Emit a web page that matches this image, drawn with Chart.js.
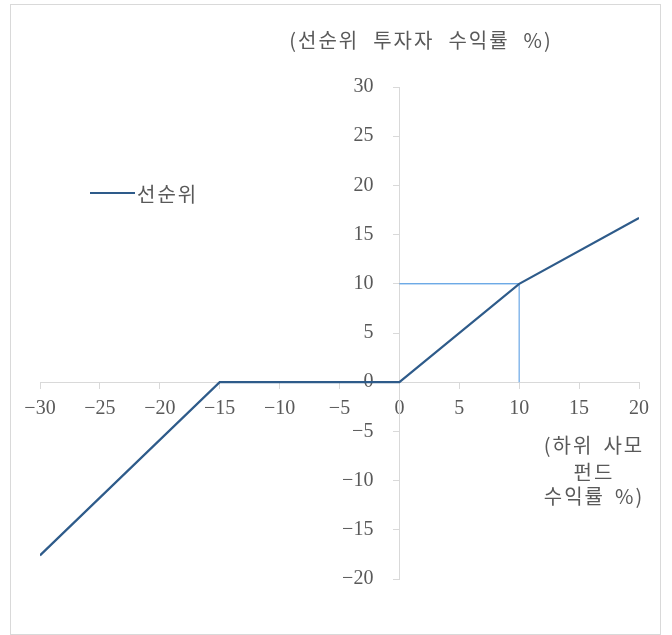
<!DOCTYPE html>
<html>
<head>
<meta charset="utf-8">
<script src="https://cdn.jsdelivr.net/npm/chart.js@4.4.1/dist/chart.umd.min.js"></script>
<style>
    body { margin: 0; background: #fff; }
    #wrap { position: relative; width: 672px; height: 635px; }
    #frame {
        position: absolute; left: 10px; top: 4px; width: 649px; height: 629px;
        border: 1px solid #d9d9d9; pointer-events: none;
    }
    canvas { position: absolute; left: 0; top: 0; }
</style>
</head>
<body>
<div id="wrap">
    <canvas id="payoffChart" width="672" height="635"></canvas>
    <div id="frame"></div>
</div>
<script>
// subordinated fund return (%) vs senior investor return (%)
const fundReturn = [-30, -15, 0, 10, 20];
const seniorReturn = [-17.6, 0, 0, 10, 16.7];

// guide lines to the 10% kink
const guideH = [{ x: 0, y: 10 }, { x: 10, y: 10 }];
const guideV = [{ x: 10, y: 0 }, { x: 10, y: 10 }];

const xTicks = [-30, -25, -20, -15, -10, -5, 0, 5, 10, 15, 20];
const yTicks = [-20, -15, -10, -5, 0, 5, 10, 15, 20, 25, 30];

const yTitle = "(선순위 투자자 수익률 %)";
const xTitleLines = ["(하위 사모", "펀드", "수익률 %)"];
const seriesName = "선순위";

const textColor = "#595959";
const axisColor = "#d9d9d9";
const tickFont = { family: "'Liberation Serif', 'Noto Sans CJK KR'", size: 20 };
const labelFont = "20px 'Noto Sans CJK KR'";

function fmt(v) {
    return v < 0 ? "\u2212" + Math.abs(v) : String(v);
}

// draws words one by one with a wide gap, like the original
function drawWords(ctx, text, cx, cy, gap) {
    const words = text.split(" ");
    const widths = words.map(w => ctx.measureText(w).width);
    const total = widths.reduce((a, b) => a + b, 0) + gap * (words.length - 1);
    let x = cx - total / 2;
    ctx.textAlign = "left";
    words.forEach((w, i) => {
        ctx.fillText(w, x, cy);
        x += widths[i] + gap;
    });
}

// y labels of a centred axis sit on the axis line; push them left
const yLabelShift = {
    id: "yLabelShift",
    afterUpdate(chart) {
        const yScale = chart.scales.y;
        const items = yScale.getLabelItems(chart.chartArea);
        items.forEach(it => { it.options.translation[0] -= 26; });
    }
};

const labelsPlugin = {
    id: "labels",
    afterDraw(chart) {
        const ctx = chart.ctx;
        ctx.save();
        ctx.fillStyle = textColor;
        ctx.font = labelFont;
        ctx.letterSpacing = "2px";
        ctx.textBaseline = "middle";

        drawWords(ctx, yTitle, 421, 40, 14);

        const lineY = [445, 472, 496];
        xTitleLines.forEach((t, i) => drawWords(ctx, t, 594, lineY[i], 10));

        // legend inside plot
        const ds = chart.data.datasets[0];
        ctx.strokeStyle = ds.borderColor;
        ctx.lineWidth = ds.borderWidth;
        ctx.beginPath();
        ctx.moveTo(90, 193);
        ctx.lineTo(135, 193);
        ctx.stroke();
        ctx.textAlign = "left";
        ctx.fillText(ds.label, 137, 194);
        ctx.restore();
    }
};

const ctx = document.getElementById("payoffChart").getContext("2d");

new Chart(ctx, {
    type: "scatter",
    data: {
        datasets: [
            {
                label: seriesName,
                data: fundReturn.map((x, i) => ({ x: x, y: seniorReturn[i] })),
                showLine: true,
                borderColor: "#2e5b8a",
                borderWidth: 2.2,
                pointRadius: 0,
                order: 0
            },
            {
                label: "guideH",
                data: guideH,
                showLine: true,
                borderColor: "#2f86dc",
                borderWidth: 1,
                pointRadius: 0,
                order: 1
            },
            {
                label: "guideV",
                data: guideV,
                showLine: true,
                borderColor: "#7fb4ea",
                borderWidth: 1.4,
                pointRadius: 0,
                order: 1
            }
        ]
    },
    options: {
        responsive: false,
        animation: false,
        layout: { padding: { left: 40, right: 33, top: 87, bottom: 56 } },
        plugins: {
            legend: { display: false },
            tooltip: { enabled: false }
        },
        scales: {
            x: {
                type: "linear",
                position: { y: 0 },
                min: -30,
                max: 20,
                afterBuildTicks: axis => { axis.ticks = xTicks.map(v => ({ value: v })); },
                grid: { drawOnChartArea: false, color: axisColor, tickLength: 6 },
                border: { color: axisColor, width: 1 },
                ticks: {
                    autoSkip: false,
                    maxRotation: 0,
                    padding: 9,
                    color: textColor,
                    font: tickFont,
                    callback: v => fmt(v)
                }
            },
            y: {
                type: "linear",
                position: { x: 0 },
                min: -20,
                max: 30,
                afterBuildTicks: axis => { axis.ticks = yTicks.map(v => ({ value: v })); },
                grid: { drawOnChartArea: false, color: axisColor, tickLength: 6 },
                border: { color: axisColor, width: 1 },
                ticks: {
                    autoSkip: false,
                    color: textColor,
                    font: tickFont,
                    callback: v => fmt(v)
                }
            }
        }
    },
    plugins: [yLabelShift, labelsPlugin]
});
</script>
</body>
</html>
